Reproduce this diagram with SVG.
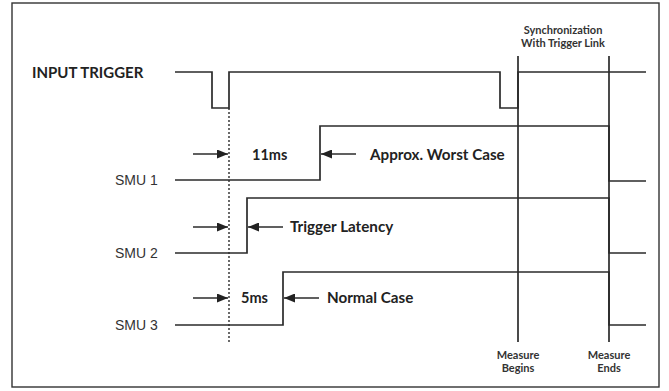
<svg xmlns="http://www.w3.org/2000/svg" width="669" height="391" viewBox="0 0 669 391">
<defs>
<style>
.sig{fill:none;stroke:#2b2b2b;stroke-width:1.7}
.dot{fill:none;stroke:#2b2b2b;stroke-width:1.4;stroke-dasharray:2 2}
.arr{fill:none;stroke:#2b2b2b;stroke-width:1.7}
.lbl{font-family:"Lato","Open Sans",sans-serif;font-weight:bold;fill:#222}
.smu{font-family:"Liberation Sans",Arial,sans-serif;font-size:14px;fill:#333}
.sm{font-family:"Lato","Open Sans",sans-serif;font-weight:bold;font-size:11px;fill:#333;text-anchor:middle}
</style>
<marker id="ah" viewBox="0 0 11 9" refX="11" refY="4.5" markerWidth="11" markerHeight="9" markerUnits="userSpaceOnUse" orient="auto">
<path d="M0,0 L11,4.5 L0,9 Z" fill="#222"/>
</marker>
</defs>
<rect x="0" y="0" width="669" height="391" fill="#fff"/>
<rect x="12" y="3" width="647" height="384" fill="none" stroke="#333" stroke-width="1.4"/>

<g id="input-trigger">
<text class="lbl" x="32" y="78" font-size="15">INPUT TRIGGER</text>
<path class="sig" d="M175,72 H212 V108 H229 V72 H500 V108 H518 V72 H646"/>
</g>
<g id="smu1">
<text class="smu" x="115" y="185">SMU 1</text>
<path class="sig" d="M175,180 H320 V126 H609 V181 H646"/>
</g>
<g id="smu2">
<text class="smu" x="115" y="258">SMU 2</text>
<path class="sig" d="M175,253 H247 V198 H609 V253 H646"/>
</g>
<g id="smu3">
<text class="smu" x="115" y="330">SMU 3</text>
<path class="sig" d="M175,325 H283 V272 H609 V325 H646"/>
</g>
<g id="markers">
<line class="sig" x1="518" y1="56" x2="518" y2="342"/>
<line class="sig" x1="609" y1="56" x2="609" y2="342"/>
<text class="sm" x="563" y="34">Synchronization</text>
<text class="sm" x="563" y="47">With Trigger Link</text>
<text class="sm" x="518" y="359">Measure</text>
<text class="sm" x="518" y="372">Begins</text>
<text class="sm" x="609" y="359">Measure</text>
<text class="sm" x="609" y="372">Ends</text>
</g>
<g id="connectors">
<line class="dot" x1="229" y1="108" x2="229" y2="344"/>
<line class="arr" x1="193" y1="154" x2="228" y2="154" marker-end="url(#ah)"/>
<line class="arr" x1="356" y1="154" x2="321" y2="154" marker-end="url(#ah)"/>
<line class="arr" x1="193" y1="227" x2="228" y2="227" marker-end="url(#ah)"/>
<line class="arr" x1="283" y1="227" x2="248" y2="227" marker-end="url(#ah)"/>
<line class="arr" x1="193" y1="298" x2="228" y2="298" marker-end="url(#ah)"/>
<line class="arr" x1="319" y1="298" x2="284" y2="298" marker-end="url(#ah)"/>
</g>
<g id="annotations">
<text class="lbl" x="252" y="160" font-size="14.5">11ms</text>
<text class="lbl" x="370" y="160" font-size="15.2">Approx. Worst Case</text>
<text class="lbl" x="290" y="232" font-size="15.2">Trigger Latency</text>
<text class="lbl" x="241" y="303" font-size="14.5">5ms</text>
<text class="lbl" x="327" y="303" font-size="15.2">Normal Case</text>
</g>
</svg>
